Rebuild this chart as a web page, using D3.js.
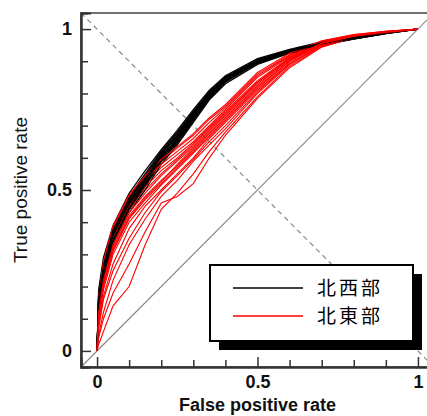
<!DOCTYPE html>
<meta charset="utf-8">
<script src="https://d3js.org/d3.v7.min.js"></script>
<style>
  body { margin: 0; background: #fff; }
  svg { display: block; }
  .tick text { font-family: "Liberation Sans", Arial, sans-serif; font-size: 18px; font-weight: bold; fill: #111; }
</style>
<div id="chart"></div>
<script>
// shared false positive rate grid for all curves
var fpr = [0, 0.005, 0.02, 0.05, 0.1, 0.15, 0.2, 0.25, 0.3, 0.35, 0.4, 0.5, 0.6, 0.7, 0.8, 0.9, 1];

// true positive rate, north-west region
var tprNorthWest = [
  [0, .16, .26, .37, .47, .54, .61, .67, .74, .80, .85, .905, .935, .958, .975, .99, 1],
  [0, .13, .24, .35, .45, .52, .60, .65, .72, .79, .84, .895, .928, .952, .970, .987, 1],
  [0, .18, .28, .38, .48, .55, .62, .68, .745, .805, .852, .90, .932, .957, .973, .989, 1],
  [0, .14, .23, .34, .44, .51, .59, .645, .715, .785, .835, .893, .926, .95, .969, .986, 1],
  [0, .17, .27, .36, .46, .535, .61, .665, .735, .80, .848, .902, .934, .956, .974, .989, 1],
  [0, .12, .22, .33, .43, .50, .58, .64, .71, .78, .83, .89, .925, .951, .970, .986, 1],
  [0, .19, .29, .39, .49, .56, .625, .685, .75, .81, .855, .908, .937, .96, .976, .99, 1],
  [0, .15, .25, .355, .455, .525, .60, .655, .725, .79, .842, .898, .93, .954, .972, .988, 1],
  [0, .16, .255, .365, .465, .53, .595, .66, .73, .795, .846, .90, .931, .955, .971, .987, 1],
  [0, .14, .245, .345, .445, .515, .59, .65, .72, .785, .838, .896, .929, .953, .971, .988, 1],
  [0, .17, .265, .37, .475, .545, .615, .675, .74, .80, .85, .903, .933, .957, .973, .989, 1],
  [0, .13, .235, .34, .44, .52, .60, .66, .73, .79, .84, .897, .93, .953, .972, .988, 1],
  [0, .155, .25, .36, .46, .53, .605, .655, .728, .797, .847, .899, .931, .955, .973, .988, 1],
  [0, .165, .26, .375, .47, .535, .605, .67, .735, .80, .85, .901, .932, .956, .974, .99, 1]
];

// true positive rate, north-east region
var tprNorthEast = [
  [0, .10, .20, .31, .41, .47, .52, .57, .62, .67, .72, .82, .90, .955, .978, .99, 1],
  [0, .14, .25, .36, .46, .52, .57, .61, .65, .70, .75, .85, .915, .96, .98, .992, 1],
  [0, .08, .17, .27, .38, .45, .50, .55, .60, .66, .71, .81, .895, .95, .976, .99, 1],
  [0, .16, .27, .38, .48, .54, .59, .63, .67, .72, .76, .86, .92, .962, .982, .993, 1],
  [0, .05, .12, .22, .33, .41, .48, .53, .59, .64, .69, .80, .89, .948, .975, .989, 1],
  [0, .12, .23, .34, .44, .50, .55, .595, .64, .69, .74, .835, .91, .957, .979, .991, 1],
  [0, .02, .06, .14, .20, .33, .44, .49, .55, .62, .68, .79, .885, .945, .974, .988, 1],
  [0, .11, .21, .32, .42, .48, .53, .575, .625, .675, .725, .825, .905, .956, .978, .99, 1],
  [0, .13, .24, .35, .45, .51, .56, .60, .645, .695, .745, .84, .912, .958, .98, .991, 1],
  [0, .04, .10, .18, .27, .37, .46, .48, .52, .60, .67, .785, .88, .944, .973, .988, 1],
  [0, .15, .26, .37, .47, .53, .58, .62, .66, .71, .755, .855, .918, .961, .981, .992, 1],
  [0, .09, .19, .30, .40, .46, .515, .565, .615, .665, .715, .815, .90, .952, .977, .99, 1],
  [0, .17, .28, .39, .485, .545, .595, .635, .675, .725, .765, .865, .925, .964, .983, .993, 1],
  [0, .07, .16, .25, .35, .43, .495, .545, .595, .65, .70, .805, .892, .95, .976, .989, 1],
  [0, .10, .205, .315, .415, .475, .525, .58, .63, .68, .73, .83, .905, .955, .978, .99, 1],
  [0, .12, .22, .33, .43, .49, .545, .59, .635, .685, .735, .835, .908, .957, .979, .991, 1]
];

var seriesNames = ["北西部", "北東部"];
var seriesColors = ["#000000", "#ff0000"];
var majorTicks = [0, 0.5, 1];
var minorTicks = [0.1, 0.2, 0.3, 0.4, 0.6, 0.7, 0.8, 0.9];

var W = 427, H = 416;
var svg = d3.select("#chart").append("svg")
    .attr("width", W)
    .attr("height", H);

var x = d3.scaleLinear().domain([-0.05, 1.05]).range([81, 434]);
var y = d3.scaleLinear().domain([-0.05, 1.05]).range([367, 13]);

// reference lines
svg.append("line")
    .attr("x1", x(-0.05)).attr("y1", y(-0.05))
    .attr("x2", x(1.05)).attr("y2", y(1.05))
    .attr("stroke", "#8a8a8a").attr("stroke-width", 1.2);
svg.append("line")
    .attr("x1", x(-0.05)).attr("y1", y(1.05))
    .attr("x2", x(1.05)).attr("y2", y(-0.05))
    .attr("stroke", "#8a8a8a").attr("stroke-width", 1.2)
    .attr("stroke-dasharray", "5,4");

// curves, interleaved so neither colour sits fully on top
var line = d3.line()
    .x(function(d, i) { return x(fpr[i]); })
    .y(function(d) { return y(d); });

var curves = [];
var n = Math.max(tprNorthWest.length, tprNorthEast.length);
for (var i = 0; i < n; i++) {
  if (tprNorthEast[i]) curves.push({ s: 1, v: tprNorthEast[i] });
  if (tprNorthWest[i]) curves.push({ s: 0, v: tprNorthWest[i] });
}

svg.append("g").selectAll("path")
  .data(curves)
  .enter().append("path")
    .attr("d", function(d) { return line(d.v); })
    .attr("fill", "none")
    .attr("stroke", function(d) { return seriesColors[d.s]; })
    .attr("stroke-width", function(d) { return d.s === 0 ? 1.3 : 1.1; });

// frame
svg.append("rect")
    .attr("x", 81).attr("y", 13)
    .attr("width", 360).attr("height", 354)
    .attr("fill", "none")
    .attr("stroke", "#444").attr("stroke-width", 1.5);

// axes with inward ticks
function styleAxis(g) {
  g.select(".domain").attr("stroke", "#333").attr("stroke-width", 2);
  g.selectAll(".tick line").attr("stroke", "#333").attr("stroke-width", 1.5);
}

svg.append("g")
    .attr("transform", "translate(0," + y(-0.05) + ")")
    .call(d3.axisBottom(x).tickValues(minorTicks).tickSize(-7).tickFormat(""))
    .call(styleAxis);
svg.append("g")
    .attr("transform", "translate(0," + y(-0.05) + ")")
    .call(d3.axisBottom(x).tickValues(majorTicks).tickSize(-10).tickPadding(8)
      .tickFormat(function(d) { return d === 0.5 ? "0.5" : d; }))
    .call(styleAxis);

svg.append("g")
    .attr("transform", "translate(" + x(-0.05) + ",0)")
    .call(d3.axisLeft(y).tickValues(minorTicks).tickSize(-7).tickFormat(""))
    .call(styleAxis);
svg.append("g")
    .attr("transform", "translate(" + x(-0.05) + ",0)")
    .call(d3.axisLeft(y).tickValues(majorTicks).tickSize(-10).tickPadding(9)
      .tickFormat(function(d) { return d === 0.5 ? "0.5" : d; }))
    .call(styleAxis);

// axis titles
svg.append("text")
    .attr("x", x(0.5)).attr("y", 411)
    .attr("text-anchor", "middle")
    .attr("font-family", "Liberation Sans, Arial, sans-serif")
    .attr("font-size", "18px")
    .attr("font-weight", "bold")
    .attr("fill", "#111")
    .text("False positive rate");
svg.append("text")
    .attr("transform", "translate(27," + y(0.5) + ") rotate(-90)")
    .attr("text-anchor", "middle")
    .attr("font-family", "Liberation Sans, Arial, sans-serif")
    .attr("font-size", "19px")
    .attr("fill", "#111")
    .text("True positive rate");

// legend with drop shadow
var lg = svg.append("g").attr("transform", "translate(210,265)");
lg.append("rect")
    .attr("x", 9).attr("y", 9).attr("width", 203).attr("height", 76)
    .attr("fill", "#000");
lg.append("rect")
    .attr("x", 0).attr("y", 0).attr("width", 203).attr("height", 76)
    .attr("fill", "#fff").attr("stroke", "#000").attr("stroke-width", 2);

seriesNames.forEach(function(name, i) {
  var ly = 23 + i * 28;
  lg.append("line")
      .attr("x1", 23).attr("x2", 93)
      .attr("y1", ly).attr("y2", ly)
      .attr("stroke", seriesColors[i]).attr("stroke-width", 1.5);
  lg.append("text")
      .attr("x", 107).attr("y", ly + 7)
      .attr("font-family", "Noto Sans CJK JP, sans-serif")
      .attr("font-size", "19px")
      .attr("letter-spacing", "3px")
      .attr("fill", "#000")
      .text(name);
});
</script>
